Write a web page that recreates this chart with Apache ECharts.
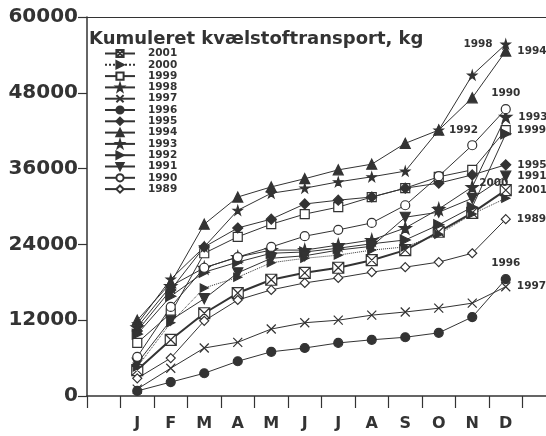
<!DOCTYPE html>
<html>
<head>
<meta charset="utf-8">
<script src="https://cdn.jsdelivr.net/npm/echarts@6/dist/echarts.min.js"></script>
<style>
  html, body { margin: 0; padding: 0; background: #fff; }
  #chart { width: 546px; height: 436px; }
</style>
</head>
<body>
<div id="chart"></div>
<script>
// month categories (blank slots at both ends, as in the original)
var months = [' ', 'J', 'F', 'M', 'A', 'M', 'J', 'J', 'A', 'S', 'O', 'N', 'D', '  '];
var yTicks = [0, 12000, 24000, 36000, 48000, 60000];
var years = ['2001', '2000', '1999', '1998', '1997', '1996', '1995', '1994', '1993', '1992', '1991', '1990', '1989'];

// cumulative nitrogen transport, kg (J..D)
var y2001 = [4100, 8900, 13100, 16300, 18400, 19500, 20300, 21500, 23100, 26000, 29000, 32600];
var y2000 = [4600, 11600, 17100, 18800, 21100, 21800, 22300, 23100, 23600, 25600, 28800, 31300];
var y1999 = [8400, 13100, 22600, 25200, 27200, 28800, 29900, 31500, 32900, 34700, 35800, 42100];
var y1998 = [11400, 18500, 23600, 29400, 32100, 32900, 33900, 34700, 35600, 42100, 50800, 55700];
var y1997 = [1100, 4400, 7600, 8500, 10600, 11600, 12000, 12800, 13300, 13900, 14700, 17300];
var y1996 = [800, 2200, 3600, 5500, 7000, 7600, 8400, 8900, 9300, 10000, 12500, 18500];
var y1995 = [10300, 16800, 23600, 26600, 28000, 30400, 31000, 31500, 32900, 33700, 35000, 36600];
var y1994 = [12000, 17900, 27200, 31500, 33100, 34400, 35800, 36700, 40000, 42100, 47200, 54600];
var y1993 = [10900, 17400, 20300, 22000, 23100, 23100, 23900, 24700, 26600, 29600, 33100, 44200];
var y1992 = [9800, 15800, 19600, 21200, 22600, 22800, 23400, 24100, 24700, 27100, 29900, 41500];
var y1991 = [5200, 12000, 15400, 19500, 21800, 22200, 23100, 23700, 28300, 29100, 31300, 34800];
var y1990 = [6200, 14100, 20300, 22000, 23600, 25300, 26300, 27400, 30200, 34800, 39700, 45400];
var y1989 = [2800, 6000, 11900, 15200, 16800, 17900, 18700, 19600, 20400, 21200, 22600, 28000];

var values = {
  '2001': y2001, '2000': y2000, '1999': y1999, '1998': y1998, '1997': y1997,
  '1996': y1996, '1995': y1995, '1994': y1994, '1993': y1993, '1992': y1992,
  '1991': y1991, '1990': y1990, '1989': y1989
};

var ink = '#333';
var font = 'DejaVu Sans';
var star = 'path://M50,0L61,35L98,35L68,57L79,91L50,70L21,91L32,57L2,35L39,35Z';

// marker look per year
var marks = {
  '2001': { symbol: 'path://M0,0H10V10H0Z M0,0L10,10 M10,0L0,10', size: 11, fill: '#fff', width: 2 },
  '2000': { symbol: 'triangle', rotate: -90, size: 8, fill: ink, dash: 'dotted' },
  '1999': { symbol: 'rect', size: 9, fill: '#fff' },
  '1998': { symbol: star, size: 9, fill: ink },
  '1997': { symbol: 'path://M0,0L10,10M10,0L0,10', size: 9, fill: 'none' },
  '1996': { symbol: 'circle', size: 9, fill: ink },
  '1995': { symbol: 'diamond', size: 10, fill: ink },
  '1994': { symbol: 'triangle', size: 10, fill: ink },
  '1993': { symbol: star, size: 12, fill: ink },
  '1992': { symbol: 'triangle', rotate: -90, size: 10, fill: ink },
  '1991': { symbol: 'triangle', rotate: 180, size: 10, fill: ink },
  '1990': { symbol: 'circle', size: 9, fill: '#fff' },
  '1989': { symbol: 'diamond', size: 9, fill: '#fff' }
};

// where the year tag sits next to the December point
var tags = {
  '2001': { position: 'right', distance: 6 },
  '2000': { position: 'top', distance: 5, offset: [-12, 0] },
  '1999': { position: 'right', distance: 6 },
  '1998': { position: 'left', distance: 8 },
  '1997': { position: 'right', distance: 6 },
  '1996': { position: 'top', distance: 5 },
  '1995': { position: 'right', distance: 6 },
  '1994': { position: 'right', distance: 6 },
  '1993': { position: 'right', distance: 6 },
  '1992': { position: 'left', distance: 22, offset: [0, -4] },
  '1991': { position: 'right', distance: 6 },
  '1990': { position: 'top', distance: 5 },
  '1989': { position: 'right', distance: 6 }
};

var series = years.map(function (yr) {
  var m = marks[yr];
  var vals = values[yr];
  var data = [null];
  vals.forEach(function (v, i) {
    if (i === vals.length - 1) {
      var t = tags[yr];
      data.push({
        value: v,
        label: {
          show: true,
          position: t.position,
          distance: t.distance,
          offset: t.offset || [0, 0],
          formatter: yr,
          color: ink,
          fontFamily: font,
          fontWeight: 'bold',
          fontSize: 10.5
        }
      });
    } else {
      data.push(v);
    }
  });
  data.push(null);
  return {
    name: yr,
    type: 'line',
    data: data,
    symbol: m.symbol,
    symbolSize: m.size,
    symbolRotate: m.rotate || 0,
    showAllSymbol: true,
    connectNulls: false,
    lineStyle: { color: ink, width: m.width || 1, type: m.dash || 'solid' },
    itemStyle: { color: m.fill === 'none' ? 'rgba(0,0,0,0)' : m.fill, borderColor: ink, borderWidth: 1.2 },
    emphasis: { disabled: true },
    animation: false
  };
});

var option = {
  backgroundColor: '#fff',
  animation: false,
  title: {
    text: 'Kumuleret kvælstoftransport, kg',
    left: 89,
    top: 30,
    padding: 0,
    textStyle: { color: ink, fontFamily: font, fontWeight: 'bold', fontSize: 18 }
  },
  legend: {
    data: years,
    orient: 'vertical',
    left: 104,
    top: 48,
    itemWidth: 30,
    itemHeight: 9,
    itemGap: 0.3,
    padding: 0,
    textStyle: { color: ink, fontFamily: font, fontWeight: 'bold', fontSize: 10.5, lineHeight: 11, padding: [0, 0, 0, 8] }
  },
  grid: { left: 87, top: 17, right: -10, bottom: 40, outerBoundsMode: 'none', containLabel: false },
  xAxis: [
    {
      type: 'category',
      data: months,
      boundaryGap: true,
      axisLine: { lineStyle: { color: ink, width: 1.5 } },
      axisTick: { show: true, interval: 0, length: 12, lineStyle: { color: ink, width: 1.2 } },
      axisLabel: { interval: 0, margin: 20, color: ink, fontFamily: font, fontWeight: 'bold', fontSize: 16 },
      splitLine: { show: false }
    },
    {
      type: 'category',
      position: 'top',
      data: months,
      axisLine: { lineStyle: { color: ink, width: 1.2 } },
      axisTick: { show: false },
      axisLabel: { show: false }
    }
  ],
  yAxis: {
    type: 'value',
    min: yTicks[0],
    max: yTicks[yTicks.length - 1],
    interval: yTicks[1] - yTicks[0],
    axisLine: { show: true, lineStyle: { color: ink, width: 1.5 } },
    axisTick: { show: true, length: 9, lineStyle: { color: ink, width: 1.2 } },
    axisLabel: {
      margin: 9, color: ink, fontFamily: font, fontWeight: 'bold', fontSize: 20,
      formatter: function (v) { return String(v); }
    },
    splitLine: { show: false }
  },
  series: series
};

var chart = echarts.init(document.getElementById('chart'));
chart.setOption(option);
window.addEventListener('resize', function () {
  chart.resize();
});
</script>
</body>
</html>
